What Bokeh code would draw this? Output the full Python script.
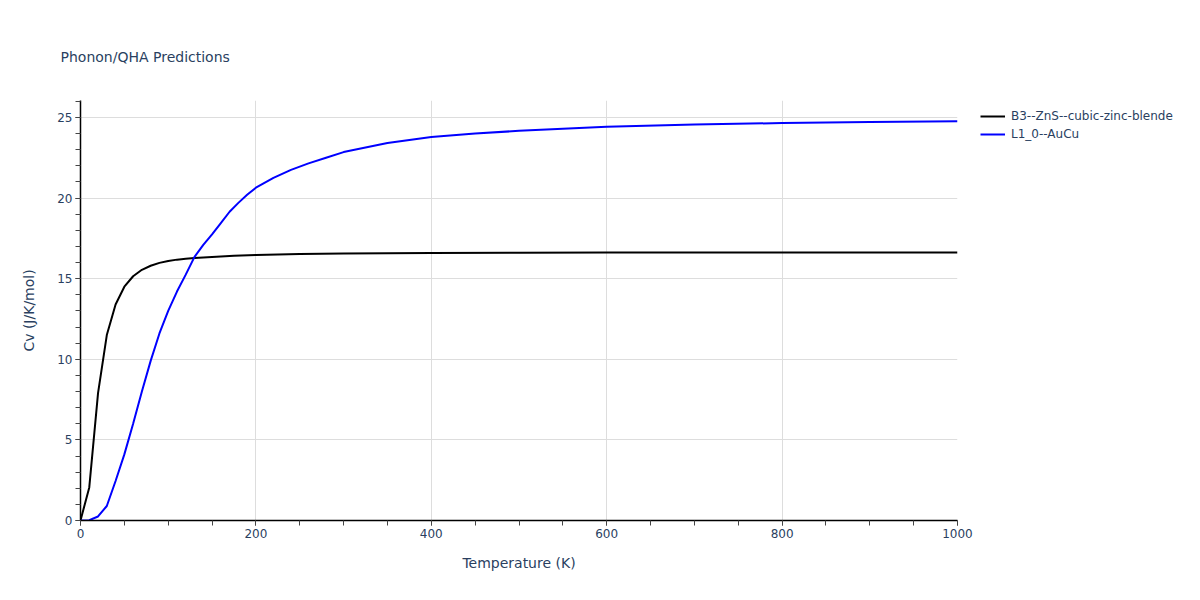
from bokeh.plotting import figure
from bokeh.models import Range1d, Legend, LegendItem, SingleIntervalTicker
from bokeh.embed import file_html
from bokeh.resources import INLINE

# ---- data ----
zns_T = [0, 10, 20, 30, 40, 50, 60, 70, 80, 90, 100, 110, 120, 130, 150, 175,
         200, 250, 300, 400, 500, 600, 800, 1000]
zns_cv = [0.0, 2.05, 7.9, 11.5, 13.4, 14.5, 15.15, 15.55, 15.8, 15.98, 16.1, 16.18,
          16.24, 16.28, 16.35, 16.42, 16.47, 16.53, 16.56, 16.59, 16.61, 16.62,
          16.63, 16.63]

aucu_T = [0, 10, 20, 30, 40, 50, 60, 70, 80, 90, 100, 110, 120, 130, 140, 150,
          160, 170, 180, 190, 200, 220, 240, 260, 280, 300, 350, 400, 450, 500,
          600, 700, 800, 900, 1000]
aucu_cv = [0.0, 0.02, 0.25, 0.9, 2.45, 4.1, 6.0, 8.0, 9.9, 11.6, 13.0, 14.2, 15.25,
           16.35, 17.1, 17.75, 18.45, 19.15, 19.7, 20.2, 20.64, 21.25, 21.75, 22.15,
           22.5, 22.85, 23.42, 23.78, 24.0, 24.17, 24.42, 24.56, 24.65, 24.72, 24.77]

series_names = ["B3--ZnS--cubic-zinc-blende", "L1_0--AuCu"]
series_colors = ["#000000", "#0000ff"]

FONT = "DejaVu Sans"
TXT = "#2a3f5f"

p = figure(frame_width=877, frame_height=420, output_backend="svg", toolbar_location=None,
           x_range=Range1d(0, 1000), y_range=Range1d(0, 26.05),
           min_border_left=80, min_border_right=0, min_border_top=100,
           min_border_bottom=70, title="Phonon/QHA Predictions")

p.outline_line_color = None
p.background_fill_color = "white"

# title
p.title.text_font = FONT
p.title.text_font_size = "14px"
p.title.text_font_style = "normal"
p.title.text_color = TXT
p.title.offset = -20
p.title.vertical_align = "top"
p.title.standoff = 68

r1 = p.line(zns_T, zns_cv, line_color=series_colors[0], line_width=2)
r2 = p.line(aucu_T, aucu_cv, line_color=series_colors[1], line_width=2)

# axes
xa = p.xaxis[0]
ya = p.yaxis[0]
xa.ticker = SingleIntervalTicker(interval=200, num_minor_ticks=4)
ya.ticker = SingleIntervalTicker(interval=5, num_minor_ticks=5)
for ax in (xa, ya):
    ax.axis_line_color = "#000000"
    ax.axis_line_width = 1.5
    ax.major_tick_line_color = "#444444"
    ax.minor_tick_line_color = "#444444"
    ax.major_tick_out = 5
    ax.major_tick_in = 0
    ax.minor_tick_out = 5
    ax.minor_tick_in = 0
    ax.major_label_text_font = FONT
    ax.major_label_text_font_size = "12px"
    ax.major_label_text_color = TXT
    ax.major_label_standoff = 3
    ax.axis_label_text_font = FONT
    ax.axis_label_text_font_size = "14px"
    ax.axis_label_text_font_style = "normal"
    ax.axis_label_text_color = TXT
xa.axis_label = "Temperature (K)"
ya.axis_label = "Cv (J/K/mol)"
xa.axis_label_standoff = 14
ya.axis_label_standoff = 17

p.xgrid.grid_line_color = "#dddddd"
p.ygrid.grid_line_color = "#dddddd"
p.xgrid.grid_line_width = 1
p.ygrid.grid_line_width = 1

legend = Legend(items=[LegendItem(label=series_names[0], renderers=[r1]),
                       LegendItem(label=series_names[1], renderers=[r2])],
                location=(23, 377))
legend.label_text_font = FONT
legend.label_text_font_size = "12px"
legend.label_text_color = TXT
legend.border_line_color = None
legend.background_fill_alpha = 0
legend.padding = 5
legend.spacing = 0
legend.glyph_height = 18
legend.label_height = 18
legend.glyph_width = 25
legend.label_standoff = 6
legend.margin = 0
p.add_layout(legend, "right")

open("out.html", "w").write(file_html(p, INLINE))
